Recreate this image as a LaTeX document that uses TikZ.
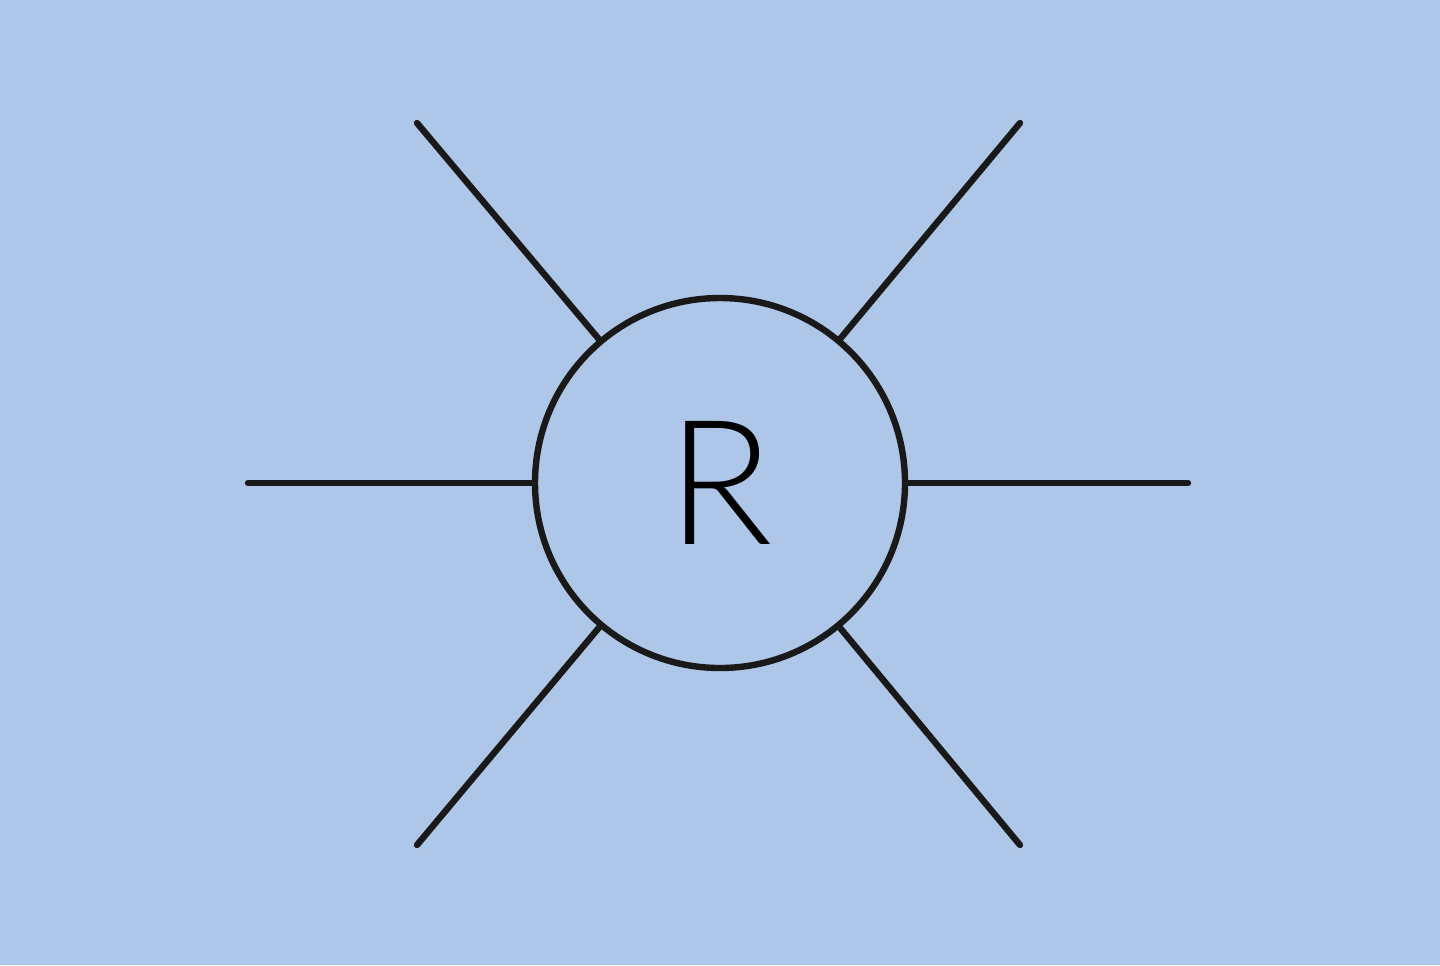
\documentclass[tikz,border=0pt]{standalone}
\usepackage{fontspec}
\setmainfont{Lato}
\newfontfamily\lightfont{Lato Light}
\definecolor{bg}{HTML}{AEC6E8}
\begin{document}
\begin{tikzpicture}[x=0.5pt,y=-0.5pt,
  spoke/.style={line width=3.2pt,line cap=round,black!90},
  hub/.style={circle,draw=black!90,line width=3.2pt,minimum size=185pt,inner sep=0pt,font=\lightfont\fontsize{87}{100}\selectfont}]
\fill[bg] (0,0) rectangle (1440,965);
\useasboundingbox (0,0) rectangle (1440,965);
\node[hub] (c) at (720,483) {R};
\coordinate (l) at (248,483);
\coordinate (r) at (1188,483);
\coordinate (ul) at (417,123);
\coordinate (ur) at (1020,123);
\coordinate (ll) at (417,845);
\coordinate (lr) at (1020,845);
\foreach \p in {l,r,ul,ur,ll,lr} \draw[spoke] (c) -- (\p);
\end{tikzpicture}
\end{document}
